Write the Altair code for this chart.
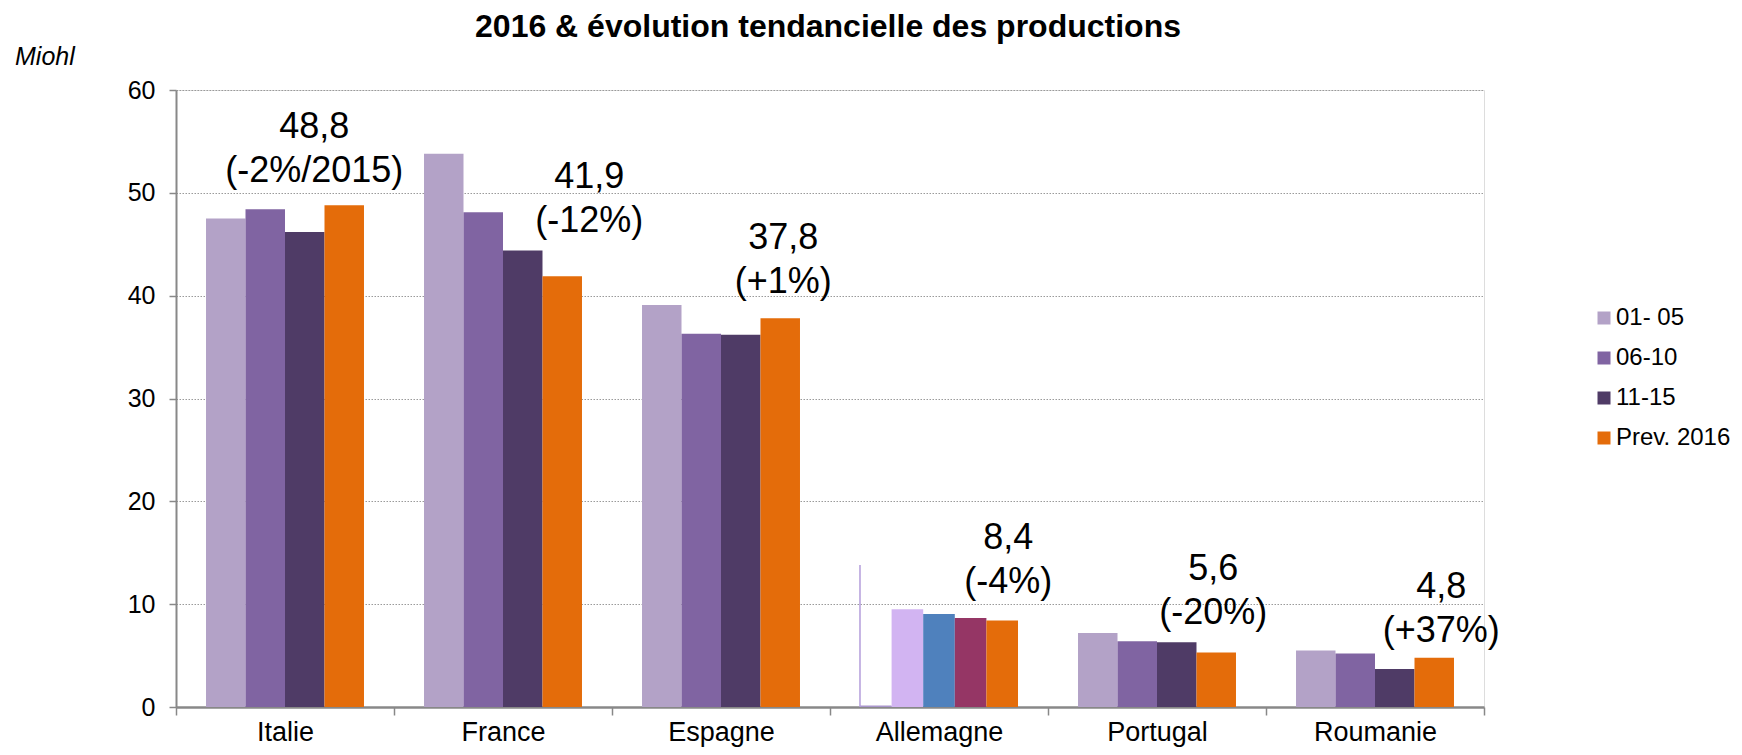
import altair as alt
import pandas as pd

# ---------------- data ----------------
countries = ["Italie", "France", "Espagne", "Allemagne", "Portugal", "Roumanie"]
series = ["01- 05", "06-10", "11-15", "Prev. 2016"]
series_colors = ["#b3a2c7", "#8064a2", "#4f3b66", "#e46c0a"]

# values per series (Allemagne is drawn by its own group below)
v_0105 = [47.5, 53.8, 39.1, None, 7.2, 5.5]
v_0610 = [48.4, 48.1, 36.3, None, 6.4, 5.2]
v_1115 = [46.2, 44.4, 36.2, None, 6.3, 3.7]
v_2016 = [48.8, 41.9, 37.8, 8.4, 5.3, 4.8]

label_value = ["48,8", "41,9", "37,8", "8,4", "5,6", "4,8"]
label_change = ["(-2%/2015)", "(-12%)", "(+1%)", "(-4%)", "(-20%)", "(+37%)"]

# Allemagne group as it appears in the source picture (5 bars)
de_slots = ["s1", "s2", "s3", "s4", "s5"]
de_values = [0.15, 9.5, 9.05, 8.65, 8.4]
de_colors = ["#a996cc", "#d2b4f2", "#4f81bd", "#953665", "#e46c0a"]
de_edges = ["e0", "e1", "e2", "e3", "e4", "e5"]
de_line_value = 13.8

# label nudges (style, pixels): (dx, dy)
label_nudge = {
    "Italie": (-30, -59),
    "France": (27, -80),
    "Espagne": (3, -61),
    "Allemagne": (10, -64),
    "Portugal": (-3, -64),
    "Roumanie": (7, -52),
}

# ---------------- tables ----------------
rows = []
for s, vals in zip(series, [v_0105, v_0610, v_1115, v_2016]):
    for c, v in zip(countries, vals):
        if c == "Allemagne" or v is None:
            continue
        rows.append({"country": c, "series": s, "value": v})
main_df = pd.DataFrame(rows)

lab_df = pd.DataFrame({
    "country": countries,
    "series": ["Prev. 2016"] * len(countries),
    "value": v_2016,
    "label": [a + "\n" + b for a, b in zip(label_value, label_change)],
})

de_df = pd.DataFrame({
    "country": ["Allemagne"] * len(de_slots),
    "slot": de_slots,
    "value": de_values,
    "col": de_colors,
})
de_line_df = pd.DataFrame({"country": ["Allemagne"], "edge": ["e0"], "value": [de_line_value]})

# ---------------- encodings ----------------
FONT = "Liberation Sans"

x_scale = alt.Scale(domain=countries, paddingInner=0, paddingOuter=0)
x_axis = alt.Axis(
    title=None, labelAngle=0, labelFontSize=27, labelColor="black", labelFont=FONT,
    labelPadding=4, tickSize=8, tickColor="#888888", tickWidth=1.5, tickBand="extent",
    domainColor="#888888", domainWidth=2.5, grid=False,
)
y_scale = alt.Scale(domain=[0, 60], nice=False)
y_axis = alt.Axis(
    title=None, values=[0, 10, 20, 30, 40, 50, 60], labelFontSize=25, labelColor="black",
    labelFont=FONT, labelPadding=14, tickSize=7, tickColor="#888888", tickWidth=1.5,
    domainColor="#888888", domainWidth=2, grid=True, gridColor="#9a9a9a",
    gridDash=[1.5, 1.5], gridWidth=1,
)

def X():
    return alt.X("country:N", scale=x_scale, axis=x_axis, sort=countries)

def Y():
    return alt.Y("value:Q", scale=y_scale, axis=y_axis)

main_off = alt.Scale(domain=series, paddingInner=0, paddingOuter=0.76)
de_off = alt.Scale(domain=de_slots, paddingInner=0, paddingOuter=0.949)
edge_off = alt.Scale(type="point", domain=de_edges, padding=0.949)

bars_main = alt.Chart(main_df).mark_bar().encode(
    x=X(),
    y=Y(),
    xOffset=alt.XOffset("series:N", scale=main_off, sort=series),
    color=alt.Color(
        "series:N",
        scale=alt.Scale(domain=series, range=series_colors),
        sort=series,
        legend=alt.Legend(title=None),
    ),
)

text_layers = []
for c in countries:
    dx, dy = label_nudge[c]
    text_layers.append(
        alt.Chart(lab_df[lab_df["country"] == c]).mark_text(
            fontSize=36, font=FONT, lineBreak="\n", lineHeight=44,
            baseline="bottom", align="center", dx=dx, dy=dy, color="black",
        ).encode(
            x=X(),
            y=Y(),
            xOffset=alt.XOffset("series:N", scale=main_off, sort=series),
            text="label:N",
        )
    )

main = alt.layer(bars_main, *text_layers)

bars_de = alt.Chart(de_df).mark_bar().encode(
    x=X(),
    y=Y(),
    xOffset=alt.XOffset("slot:N", scale=de_off, sort=de_slots),
    fill=alt.Fill("col:N", scale=None),
)
line_de = alt.Chart(de_line_df).mark_rule(color="#b39ddb", strokeWidth=1.5).encode(
    x=X(),
    y=Y(),
    y2=alt.datum(0),
    xOffset=alt.XOffset("edge:N", scale=edge_off, sort=de_edges),
)

deco_df = pd.DataFrame({"t": ["2016 & évolution tendancielle des productions"], "u": ["Miohl"]})
title_mark = alt.Chart(deco_df).mark_text(
    font=FONT, fontWeight="bold",
    fontSize=32, align="center", baseline="alphabetic", color="black",
).encode(x=alt.value(652), y=alt.value(-53), text="t:N")
unit_mark = alt.Chart(deco_df).mark_text(
    font=FONT, fontStyle="italic", fontSize=25, align="left",
    baseline="alphabetic", color="black",
).encode(x=alt.value(-161), y=alt.value(-25), text="u:N")

chart = (
    alt.layer(main, bars_de, line_de, title_mark, unit_mark)
    .resolve_scale(xOffset="independent")
    .properties(
        width=1308,
        height=617,
        autosize=alt.AutoSizeParams(type="none"),
        padding={"left": 168, "top": 82, "right": 250, "bottom": 40},
    )
    .configure_view(stroke=None)
    .configure(font=FONT)
    .configure_legend(
        orient="none", legendX=1416, legendY=216, padding=0,
        symbolType="square", symbolSize=169, symbolStrokeWidth=0,
        labelFontSize=24, labelFont=FONT, labelColor="black",
        labelOffset=0, rowPadding=16,
    )
)

chart.save("out.html", embed_options={"renderer": "svg", "actions": False})
